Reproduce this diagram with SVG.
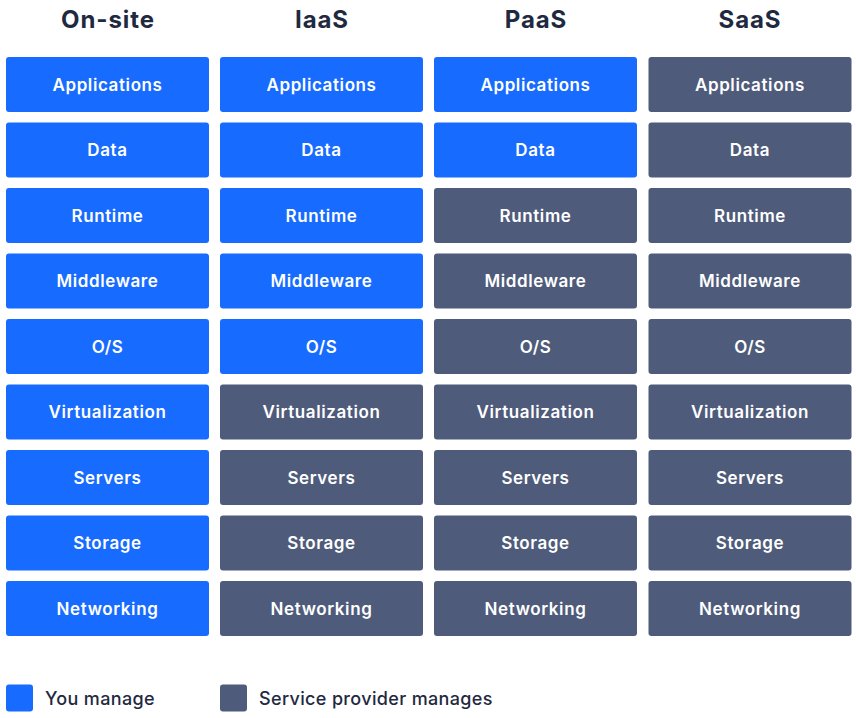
<svg xmlns="http://www.w3.org/2000/svg" width="856" height="718" viewBox="0 0 856 718">
<style>
.hd{font-family:Inter,"Noto Sans","Liberation Sans",sans-serif;font-weight:700;font-size:24px;letter-spacing:0.9px;fill:#1f2940;text-anchor:middle}
.b rect{rx:3px;ry:3px}
.u rect{fill:#176bff}
.p rect{fill:#4e5b7a}
.b text{font-family:Inter,"Noto Sans","Liberation Sans",sans-serif;font-weight:600;font-size:17px;letter-spacing:0.6px;fill:#ffffff;text-anchor:middle}
.lg{font-family:Inter,"Noto Sans","Liberation Sans",sans-serif;font-weight:500;font-size:18px;letter-spacing:0.35px;fill:#1f2940}
</style>
<rect width="856" height="718" fill="#ffffff"/>
<g id="headers">
<text class="hd" x="108" y="28">On-site</text>
<text class="hd" x="322" y="28">IaaS</text>
<text class="hd" x="536" y="28">PaaS</text>
<text class="hd" x="750" y="28">SaaS</text>
</g>
<g id="col-onsite">
<g id="on-app" class="b u"><rect x="6" y="57" width="203" height="55"/><text x="107.5" y="90.5">Applications</text></g>
<g id="on-data" class="b u"><rect x="6" y="122.5" width="203" height="55"/><text x="107.5" y="156">Data</text></g>
<g id="on-runtime" class="b u"><rect x="6" y="188" width="203" height="55"/><text x="107.5" y="221.5">Runtime</text></g>
<g id="on-mw" class="b u"><rect x="6" y="253.5" width="203" height="55"/><text x="107.5" y="287">Middleware</text></g>
<g id="on-os" class="b u"><rect x="6" y="319" width="203" height="55"/><text x="107.5" y="352.5">O/S</text></g>
<g id="on-virt" class="b u"><rect x="6" y="384.5" width="203" height="55"/><text x="107.5" y="418">Virtualization</text></g>
<g id="on-srv" class="b u"><rect x="6" y="450" width="203" height="55"/><text x="107.5" y="483.5">Servers</text></g>
<g id="on-sto" class="b u"><rect x="6" y="515.5" width="203" height="55"/><text x="107.5" y="549">Storage</text></g>
<g id="on-net" class="b u"><rect x="6" y="581" width="203" height="55"/><text x="107.5" y="614.5">Networking</text></g>
</g>
<g id="col-iaas">
<g id="iaas-app" class="b u"><rect x="220" y="57" width="203" height="55"/><text x="321.5" y="90.5">Applications</text></g>
<g id="iaas-data" class="b u"><rect x="220" y="122.5" width="203" height="55"/><text x="321.5" y="156">Data</text></g>
<g id="iaas-runtime" class="b u"><rect x="220" y="188" width="203" height="55"/><text x="321.5" y="221.5">Runtime</text></g>
<g id="iaas-mw" class="b u"><rect x="220" y="253.5" width="203" height="55"/><text x="321.5" y="287">Middleware</text></g>
<g id="iaas-os" class="b u"><rect x="220" y="319" width="203" height="55"/><text x="321.5" y="352.5">O/S</text></g>
<g id="iaas-virt" class="b p"><rect x="220" y="384.5" width="203" height="55"/><text x="321.5" y="418">Virtualization</text></g>
<g id="iaas-srv" class="b p"><rect x="220" y="450" width="203" height="55"/><text x="321.5" y="483.5">Servers</text></g>
<g id="iaas-sto" class="b p"><rect x="220" y="515.5" width="203" height="55"/><text x="321.5" y="549">Storage</text></g>
<g id="iaas-net" class="b p"><rect x="220" y="581" width="203" height="55"/><text x="321.5" y="614.5">Networking</text></g>
</g>
<g id="col-paas">
<g id="paas-app" class="b u"><rect x="434" y="57" width="203" height="55"/><text x="535.5" y="90.5">Applications</text></g>
<g id="paas-data" class="b u"><rect x="434" y="122.5" width="203" height="55"/><text x="535.5" y="156">Data</text></g>
<g id="paas-runtime" class="b p"><rect x="434" y="188" width="203" height="55"/><text x="535.5" y="221.5">Runtime</text></g>
<g id="paas-mw" class="b p"><rect x="434" y="253.5" width="203" height="55"/><text x="535.5" y="287">Middleware</text></g>
<g id="paas-os" class="b p"><rect x="434" y="319" width="203" height="55"/><text x="535.5" y="352.5">O/S</text></g>
<g id="paas-virt" class="b p"><rect x="434" y="384.5" width="203" height="55"/><text x="535.5" y="418">Virtualization</text></g>
<g id="paas-srv" class="b p"><rect x="434" y="450" width="203" height="55"/><text x="535.5" y="483.5">Servers</text></g>
<g id="paas-sto" class="b p"><rect x="434" y="515.5" width="203" height="55"/><text x="535.5" y="549">Storage</text></g>
<g id="paas-net" class="b p"><rect x="434" y="581" width="203" height="55"/><text x="535.5" y="614.5">Networking</text></g>
</g>
<g id="col-saas">
<g id="saas-app" class="b p"><rect x="648.5" y="57" width="203" height="55"/><text x="750" y="90.5">Applications</text></g>
<g id="saas-data" class="b p"><rect x="648.5" y="122.5" width="203" height="55"/><text x="750" y="156">Data</text></g>
<g id="saas-runtime" class="b p"><rect x="648.5" y="188" width="203" height="55"/><text x="750" y="221.5">Runtime</text></g>
<g id="saas-mw" class="b p"><rect x="648.5" y="253.5" width="203" height="55"/><text x="750" y="287">Middleware</text></g>
<g id="saas-os" class="b p"><rect x="648.5" y="319" width="203" height="55"/><text x="750" y="352.5">O/S</text></g>
<g id="saas-virt" class="b p"><rect x="648.5" y="384.5" width="203" height="55"/><text x="750" y="418">Virtualization</text></g>
<g id="saas-srv" class="b p"><rect x="648.5" y="450" width="203" height="55"/><text x="750" y="483.5">Servers</text></g>
<g id="saas-sto" class="b p"><rect x="648.5" y="515.5" width="203" height="55"/><text x="750" y="549">Storage</text></g>
<g id="saas-net" class="b p"><rect x="648.5" y="581" width="203" height="55"/><text x="750" y="614.5">Networking</text></g>
</g>
<g id="connectors"/>
<g id="legend">
<g id="legend-you" class="b u"><rect x="6" y="684.5" width="27" height="27"/></g>
<text class="lg" x="45" y="705">You manage</text>
<g id="legend-provider" class="b p"><rect x="220" y="684.5" width="27" height="27"/></g>
<text class="lg" x="259" y="705">Service provider manages</text>
</g>
</svg>
